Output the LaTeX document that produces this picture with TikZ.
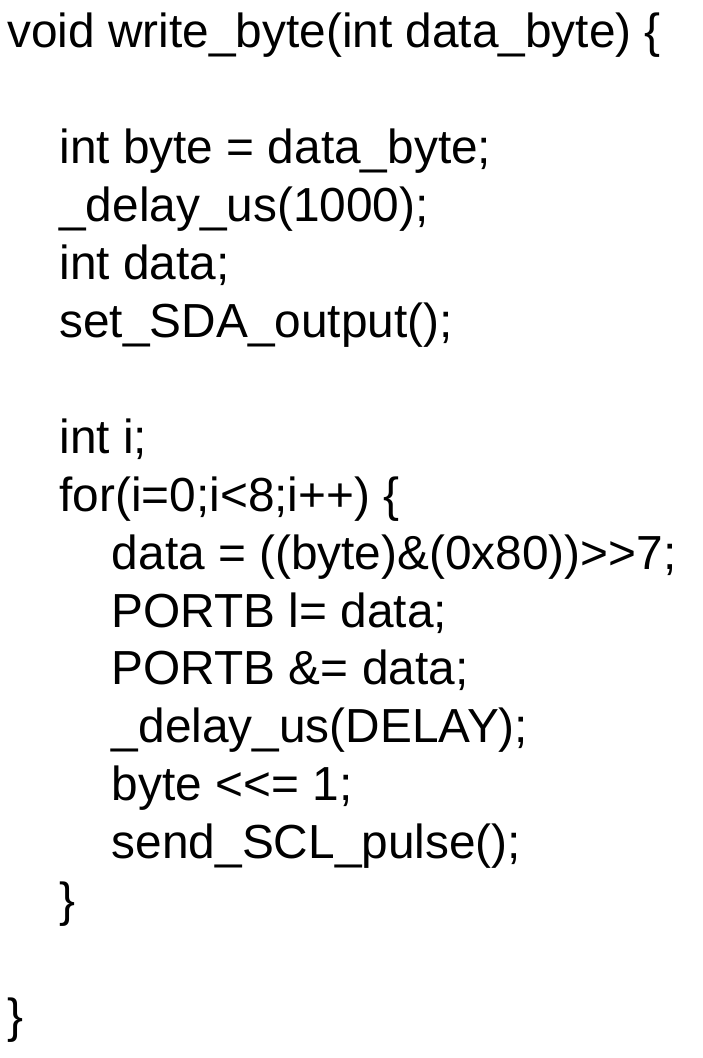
\documentclass[tikz,border=0pt]{standalone}
\usepackage{fontspec}
\setmainfont{Liberation Sans}

\tikzset{codeline/.style={anchor=base west,inner sep=0pt,font=\fontsize{23.9}{28}\selectfont}}

\begin{document}
\begin{tikzpicture}[x=0.5pt,y=-0.5pt]
\useasboundingbox (0,0) rectangle (702,1058);
\node[codeline] (l0) at (7,48) {void write\_byte(int data\_byte) \{};
\node[codeline] (l2) at (59,163.8) {int byte = data\_byte;};
\node[codeline] (l3) at (59,221.7) {\_delay\_us(1000);};
\node[codeline] (l4) at (59,279.6) {int data;};
\node[codeline] (l5) at (59,337.5) {set\_SDA\_output();};
\node[codeline] (l7) at (59,453.3) {int i;};
\node[codeline] (l8) at (59,511.2) {for(i=0;i<8;i++) \{};
\node[codeline] (l9) at (111.5,569.1) {data = ((byte)\&(0x80))>\kern0pt>7;};
\node[codeline] (l10) at (111.5,627) {PORTB l= data;};
\node[codeline] (l11) at (111.5,684.9) {PORTB \&= data;};
\node[codeline] (l12) at (111.5,742.8) {\_delay\_us(DELAY);};
\node[codeline] (l13) at (111.5,800.7) {byte <\kern0pt<= 1;};
\node[codeline] (l14) at (111.5,858.6) {send\_SCL\_pulse();};
\node[codeline] (l15) at (59,916.5) {\}};
\node[codeline] (l17) at (7,1032.3) {\}};
\end{tikzpicture}
\end{document}
